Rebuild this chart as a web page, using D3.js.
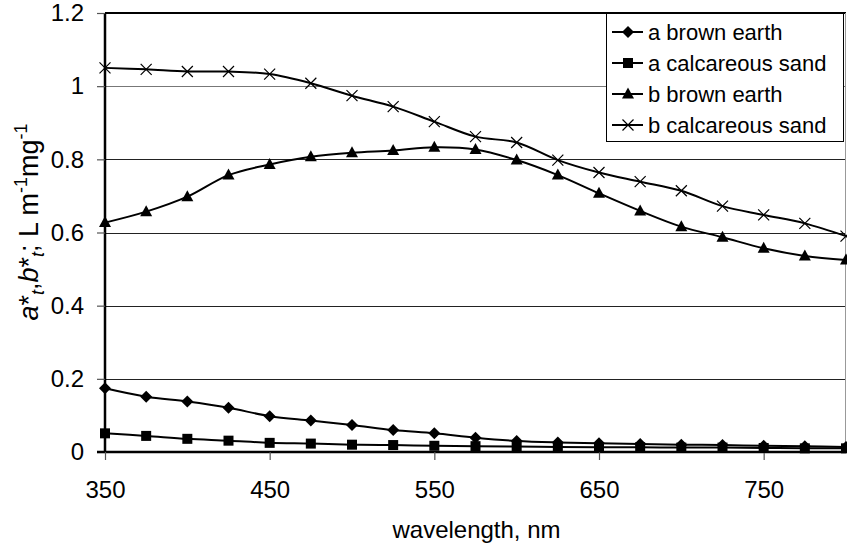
<!DOCTYPE html>
<html>
<head>
<meta charset="utf-8">
<script src="https://cdn.jsdelivr.net/npm/d3@7"></script>
<style>
  body { margin: 0; background: #fff; }
  text { font-family: "Liberation Sans", Arial, sans-serif; fill: #000; }
</style>
</head>
<body>
<script>
// wavelengths, nm
const wavelengths = [350, 375, 400, 425, 450, 475, 500, 525, 550, 575, 600, 625, 650, 675, 700, 725, 750, 775, 800];

// series values
const aBrownEarth = [0.174, 0.151, 0.138, 0.121, 0.098, 0.086, 0.074, 0.060, 0.051, 0.039, 0.030, 0.026, 0.024, 0.022, 0.020, 0.019, 0.017, 0.016, 0.014];
const aCalcSand = [0.051, 0.044, 0.036, 0.031, 0.025, 0.023, 0.020, 0.019, 0.017, 0.016, 0.015, 0.014, 0.013, 0.013, 0.012, 0.012, 0.011, 0.010, 0.010];
const bBrownEarth = [0.627, 0.657, 0.698, 0.757, 0.786, 0.807, 0.818, 0.824, 0.833, 0.827, 0.798, 0.757, 0.707, 0.659, 0.616, 0.587, 0.557, 0.536, 0.525];
const bCalcSand = [1.050, 1.046, 1.040, 1.040, 1.033, 1.008, 0.974, 0.944, 0.903, 0.862, 0.846, 0.798, 0.764, 0.739, 0.714, 0.672, 0.648, 0.625, 0.590];

const xTicks = [350, 450, 550, 650, 750];
const yTicks = [0, 0.2, 0.4, 0.6, 0.8, 1, 1.2];

const series = [
  { name: "a brown earth", values: aBrownEarth, marker: "diamond" },
  { name: "a calcareous sand", values: aCalcSand, marker: "square" },
  { name: "b brown earth", values: bBrownEarth, marker: "triangle" },
  { name: "b calcareous sand", values: bCalcSand, marker: "cross" }
];

let width = 847, height = 552;
let margin = { top: 13, bottom: 100, left: 105, right: 1 };

let svg = d3.select('body')
  .append('svg')
  .attr('width', width)
  .attr('height', height);

const xScale = d3.scaleLinear()
  .domain([350, 800])
  .range([margin.left, width - margin.right]);

const yScale = d3.scaleLinear()
  .domain([0, 1.2])
  .range([height - margin.bottom, margin.top]);

// gridlines
svg.append('g')
  .selectAll('line')
  .data(yTicks.filter(d => d > 0 && d < 1.2))
  .enter()
  .append('line')
  .attr('x1', margin.left)
  .attr('x2', width - margin.right)
  .attr('y1', d => Math.round(yScale(d)) + 0.5)
  .attr('y2', d => Math.round(yScale(d)) + 0.5)
  .attr('stroke', d => d === 1 ? '#777' : '#222')
  .attr('stroke-width', 1);

// plot frame: top thick, right grey
svg.append('line')
  .attr('x1', margin.left).attr('x2', width - margin.right)
  .attr('y1', yScale(1.2)).attr('y2', yScale(1.2))
  .attr('stroke', '#000').attr('stroke-width', 2);
svg.append('line')
  .attr('x1', width - margin.right - 0.5).attr('x2', width - margin.right - 0.5)
  .attr('y1', yScale(1.2)).attr('y2', yScale(0))
  .attr('stroke', '#999').attr('stroke-width', 1);

// axes
let yAxis = svg.append('g')
  .attr('transform', `translate(${margin.left},0)`)
  .call(d3.axisLeft(yScale).tickValues(yTicks).tickSize(8).tickPadding(13).tickFormat(d3.format('')));

let xAxis = svg.append('g')
  .attr('transform', `translate(0,${height - margin.bottom})`)
  .call(d3.axisBottom(xScale).tickValues(xTicks).tickSize(8).tickPadding(21).tickFormat(d3.format('')));

[yAxis, xAxis].forEach(ax => {
  ax.select('.domain').attr('stroke', '#000').attr('stroke-width', 2.5);
  ax.selectAll('.tick line').attr('stroke', '#555').attr('stroke-width', 1.2);
  ax.selectAll('.tick text')
    .style('font-family', '"Liberation Sans", Arial, sans-serif')
    .style('font-size', '24px')
    .attr('fill', '#000');
});
yAxis.select('.domain').attr('d', `M0,${yScale(1.2)}V${yScale(0)}`);
xAxis.select('.domain').attr('d', `M${margin.left - 8},0H${width - margin.right}`);

// axis titles
svg.append('text')
  .attr('x', (margin.left + width - margin.right) / 2 + 1)
  .attr('y', 538)
  .style('text-anchor', 'middle')
  .style('font-size', '24px')
  .text('wavelength, nm');

let yTitle = svg.append('text')
  .attr('transform', 'translate(38,' + 222 + ') rotate(-90)')
  .style('text-anchor', 'middle')
  .style('font-size', '27px');
yTitle.append('tspan').style('font-style', 'italic').text('a');
yTitle.append('tspan').text('*');
yTitle.append('tspan').style('font-style', 'italic').style('font-size', '18px').attr('dy', 6).text('t');
yTitle.append('tspan').attr('dy', -6).text(',');
yTitle.append('tspan').style('font-style', 'italic').text('b');
yTitle.append('tspan').text('*');
yTitle.append('tspan').style('font-style', 'italic').style('font-size', '18px').attr('dy', 6).text('t');
yTitle.append('tspan').attr('dy', -6).text('; L m');
yTitle.append('tspan').style('font-size', '18px').attr('dy', -11).text('-1');
yTitle.append('tspan').attr('dy', 11).text('mg');
yTitle.append('tspan').style('font-size', '18px').attr('dy', -11).text('-1');

// markers
function drawMarker(g, type) {
  if (type === 'diamond') {
    g.append('path').attr('d', 'M0,-6L6,0L0,6L-6,0Z').attr('fill', '#000');
  } else if (type === 'square') {
    g.append('rect').attr('x', -5).attr('y', -5).attr('width', 10).attr('height', 10).attr('fill', '#000');
  } else if (type === 'triangle') {
    g.append('path').attr('d', 'M0,-6.5L6,4.5L-6,4.5Z').attr('fill', '#000');
  } else {
    g.append('path').attr('d', 'M-5.5,-5.5L5.5,5.5M-5.5,5.5L5.5,-5.5').attr('stroke', '#000').attr('stroke-width', 1.2).attr('fill', 'none');
  }
}

const line = d3.line()
  .x((d, i) => xScale(wavelengths[i]))
  .y(d => yScale(d))
  .curve(d3.curveCatmullRom.alpha(0.5));

series.forEach(s => {
  svg.append('path')
    .datum(s.values)
    .attr('d', line)
    .attr('fill', 'none')
    .attr('stroke', '#000')
    .attr('stroke-width', 2);

  s.values.forEach((v, i) => {
    let g = svg.append('g')
      .attr('transform', `translate(${xScale(wavelengths[i])},${yScale(v)})`);
    drawMarker(g, s.marker);
  });
});

// legend
let legend = svg.append('g').attr('transform', 'translate(606,13)');
legend.append('rect')
  .attr('x', 0.5).attr('y', 0.5)
  .attr('width', 237).attr('height', 128)
  .attr('fill', '#fff')
  .attr('stroke', '#000')
  .attr('stroke-width', 1);

series.forEach((s, i) => {
  let row = legend.append('g').attr('transform', `translate(0,${19 + i * 31})`);
  row.append('line')
    .attr('x1', 6).attr('x2', 37)
    .attr('stroke', '#000').attr('stroke-width', 2);
  let m = row.append('g').attr('transform', 'translate(22,0)');
  drawMarker(m, s.marker);
  row.append('text')
    .attr('x', 42)
    .attr('y', 8)
    .style('font-size', '22px')
    .text(s.name);
});
</script>
</body>
</html>
